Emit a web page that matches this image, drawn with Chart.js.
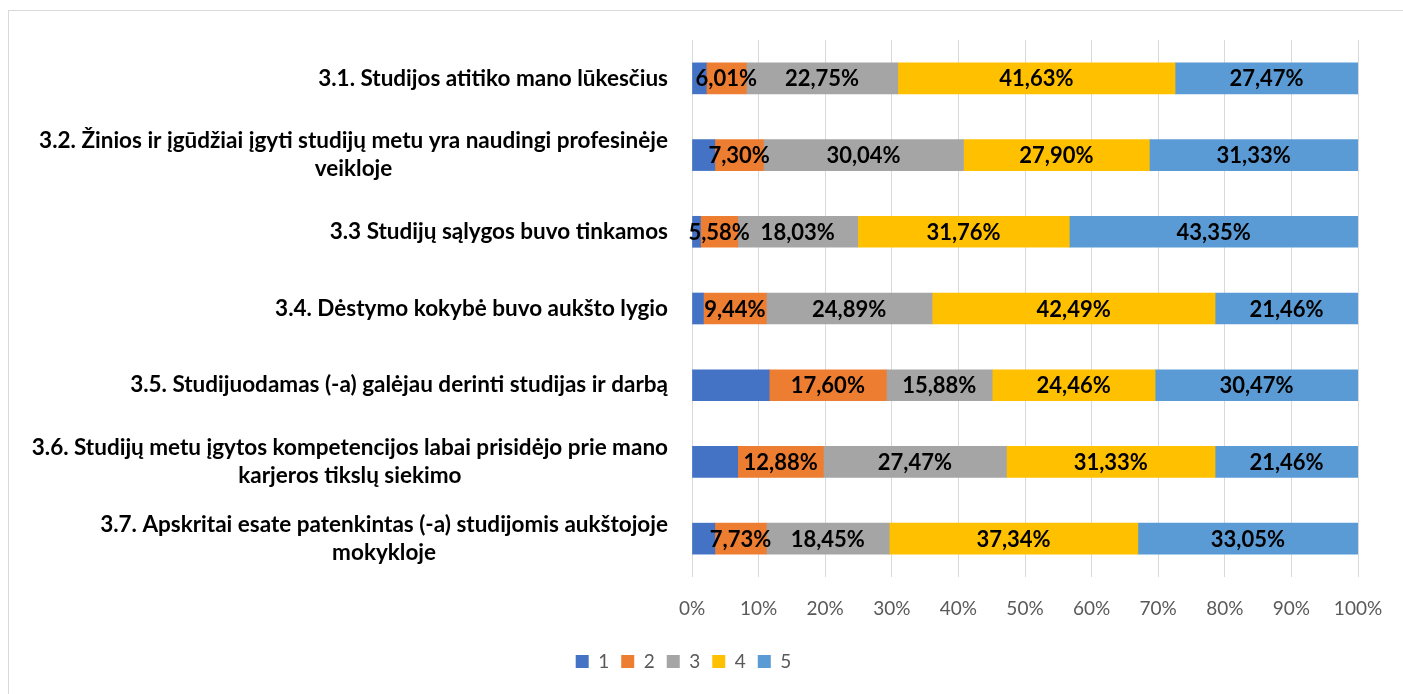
<!DOCTYPE html>
<html>
<head>
<meta charset="utf-8">
<script src="https://cdn.jsdelivr.net/npm/chart.js@4/dist/chart.umd.min.js"></script>
<style>
  body { margin: 0; background: #fff; }
  #box { position: absolute; left: 8px; top: 10px; width: 1395px; height: 684px;
         border-left: 1px solid #d9d9d9; border-top: 1px solid #d9d9d9; }
</style>
</head>
<body>
<div id="box"><canvas id="grafik"></canvas></div>
<script>
// klausimai (eilutės)
const klausimai = [
  ["3.1. Studijos atitiko mano lūkesčius"],
  ["3.2. Žinios ir įgūdžiai įgyti studijų metu yra naudingi profesinėje", "veikloje"],
  ["3.3 Studijų sąlygos buvo tinkamos"],
  ["3.4. Dėstymo kokybė buvo aukšto lygio"],
  ["3.5. Studijuodamas (-a) galėjau derinti studijas ir darbą"],
  ["3.6. Studijų metu įgytos kompetencijos labai prisidėjo prie mano", "karjeros tikslų siekimo"],
  ["3.7. Apskritai esate patenkintas (-a) studijomis aukštojoje", "mokykloje"]
];

// vertinimai 1..5 (%)
const vert1 = [2.14, 3.43, 1.28, 1.72, 11.59, 6.86, 3.43];
const vert2 = [6.01, 7.30, 5.58, 9.44, 17.60, 12.88, 7.73];
const vert3 = [22.75, 30.04, 18.03, 24.89, 15.88, 27.47, 18.45];
const vert4 = [41.63, 27.90, 31.76, 42.49, 24.46, 31.33, 37.34];
const vert5 = [27.47, 31.33, 43.35, 21.46, 30.47, 21.46, 33.05];

const serijos = ["1", "2", "3", "4", "5"];
const spalvos = ["#4472C4", "#ED7D31", "#A5A5A5", "#FFC000", "#5B9BD5"];
const xTicks = [0, 10, 20, 30, 40, 50, 60, 70, 80, 90, 100];

const FONT = "Lato";

// reiksmiu etiketes ant stulpeliu
const etiketes = {
  id: "etiketes",
  afterDatasetsDraw(ch) {
    const ctx = ch.ctx;
    ctx.save();
    ctx.font = "bold 22px " + FONT;
    ctx.fillStyle = "#000";
    ctx.textAlign = "center";
    ctx.textBaseline = "middle";
    ch.data.datasets.forEach((ds, di) => {
      if (di === 0) return; // "1" be etikeciu
      ch.getDatasetMeta(di).data.forEach((bar, i) => {
        const x = (bar.x + bar.base) / 2;
        ctx.fillText(ds.data[i].toFixed(2).replace(".", ",") + "%", x, bar.y + 1);
      });
    });
    ctx.restore();
  }
};

// kategoriju pavadinimai (eilutes centruotos bloke)
const kategorijos = {
  id: "kategorijos",
  afterDraw(ch) {
    const ctx = ch.ctx, ys = ch.scales.y;
    ctx.save();
    ctx.font = "bold 22.5px " + FONT;
    ctx.fillStyle = "#000";
    ctx.textAlign = "center";
    ctx.textBaseline = "middle";
    const right = ch.chartArea.left - 24;
    klausimai.forEach((eil, i) => {
      const y = ys.getPixelForTick(i);
      const w = Math.max(...eil.map(t => ctx.measureText(t).width));
      const cx = right - w / 2;
      eil.forEach((t, j) => {
        ctx.fillText(t, cx, y + (j - (eil.length - 1) / 2) * 28);
      });
    });
    ctx.restore();
  }
};

const rinkiniai = [vert1, vert2, vert3, vert4, vert5].map((d, k) => ({
  label: serijos[k], data: d, backgroundColor: spalvos[k],
  barThickness: 31, borderWidth: 0
}));

new Chart(grafik, {
  type: "bar",
  data: { labels: klausimai, datasets: rinkiniai },
  plugins: [etiketes, kategorijos],
  options: {
    indexAxis: "y",
    responsive: true, maintainAspectRatio: false, animation: false,
    layout: { padding: { top: 29, right: 46, left: 0, bottom: 14 } },
    plugins: {
      legend: {
        position: "bottom",
        labels: { boxWidth: 13, boxHeight: 13, padding: 12, color: "#595959",
                  font: { family: FONT, size: 19 } }
      },
      tooltip: { enabled: false }
    },
    scales: {
      x: {
        stacked: true, min: 0, max: 100,
        afterBuildTicks: s => { s.ticks = xTicks.map(v => ({ value: v })); },
        afterFit: s => { s.height = 63; },
        ticks: { callback: v => v + "%", color: "#595959", padding: 20,
                 font: { family: FONT, size: 19 } },
        grid: { color: "#d9d9d9", drawTicks: false },
        border: { display: false }
      },
      y: {
        stacked: true,
        afterFit: s => { s.width = 683; },
        ticks: { color: "transparent" },
        grid: { display: false },
        border: { display: false }
      }
    }
  }
});
</script>
</body>
</html>
